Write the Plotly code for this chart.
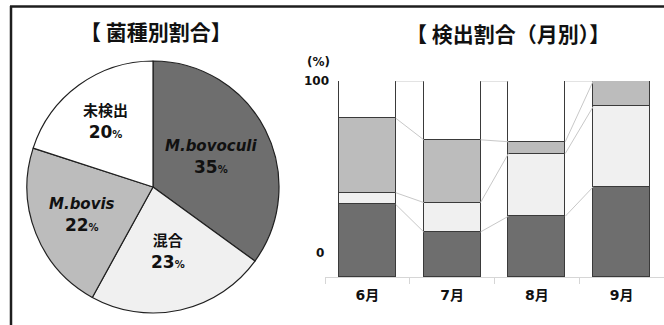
import math
import plotly.graph_objects as go

W, H = 664, 325

# ---- data -------------------------------------------------------------
species = ["M.bovoculi", "混合", "M.bovis", "未検出"]
species_share = [35, 23, 22, 20]
species_italic = [True, False, True, False]

months = ["6月", "7月", "8月", "9月"]
bovoculi = [37, 23, 31, 46]
mixed = [6, 15, 32, 41]
bovis = [38, 32, 6, 13]
undetected = [19, 30, 31, 0]

y_tick_values = [0, 100]
y_tick_labels = ["0", "100"]

# ---- styling ----------------------------------------------------------
DARK = "#6e6e6e"
MEDIUM = "#bcbcbc"
LIGHT = "#f0f0f0"
WHITE = "#ffffff"
species_colors = [DARK, LIGHT, MEDIUM, WHITE]
EDGE = "#3a3a3a"
FONT = "DejaVu Sans, Noto Sans CJK JP, sans-serif"
CJK = "Noto Sans CJK JP, sans-serif"


def px(x):
    return x / W


def py(y):
    return 1 - y / H


fig = go.Figure()

# ---- pie ----------------------------------------------------------------
cx, cy, r = 153, 187, 126
fig.add_trace(go.Pie(
    labels=species,
    values=species_share,
    sort=False,
    direction="clockwise",
    rotation=0,
    textinfo="none",
    hoverinfo="label+percent",
    marker=dict(colors=species_colors, line=dict(color="#202020", width=1.2)),
    domain=dict(x=[px(cx - r), px(cx + r)], y=[py(cy + r), py(cy - r)]),
    showlegend=False,
))

label_radius = [0.52, 0.53, 0.61, 0.64]
total = sum(species_share)
cum = 0
for name, val, ital, rf in zip(species, species_share, species_italic, label_radius):
    mid = (cum + val / 2) / total * 2 * math.pi
    cum += val
    lx = cx + rf * r * math.sin(mid)
    ly = cy - rf * r * math.cos(mid)
    head = f"<i>{name}</i>" if ital else name
    text = (f"<span style='font-size:15px'><b>{head}</b></span><br>"
            f"<b>{val}</b><span style='font-size:10px'><b>%</b></span>")
    fig.add_annotation(x=px(lx), y=py(ly), xref="paper", yref="paper",
                       xanchor="center", yanchor="middle",
                       text=text, showarrow=False, align="center",
                       font=dict(family=FONT, size=17, color="#111111"))

# ---- stacked bars -------------------------------------------------------
xpos = list(range(len(months)))
bar_w = 0.67
series = [bovoculi, mixed, bovis, undetected]
bar_colors = [DARK, LIGHT, MEDIUM, WHITE]
for name, vals, col in zip(species, series, bar_colors):
    fig.add_trace(go.Bar(
        x=xpos, y=vals, width=bar_w, name=name,
        marker=dict(color=col, line=dict(color=EDGE, width=1)),
        xaxis="x", yaxis="y", showlegend=False,
    ))

# series lines joining segment tops of neighbouring bars
level = [0] * len(months)
for vals in series:
    level = [a + b for a, b in zip(level, vals)]
    lx, ly = [], []
    for i in range(len(months) - 1):
        lx += [i + bar_w / 2, i + 1 - bar_w / 2, None]
        ly += [level[i], level[i + 1], None]
    fig.add_trace(go.Scatter(x=lx, y=ly, mode="lines",
                             line=dict(color="#c8c8c8", width=1),
                             hoverinfo="skip", showlegend=False,
                             xaxis="x", yaxis="y"))

# value-axis labels
for v, t, shift in zip(y_tick_values, y_tick_labels, [24, 0]):
    fig.add_annotation(x=px(331 if v else 326), y=v, xref="paper", yref="y",
                       text=f"<b>{t}</b>", showarrow=False, xanchor="right",
                       yanchor="middle", yshift=shift,
                       font=dict(family=FONT, size=12, color="#111111"))
fig.add_annotation(x=px(318), y=py(62), xref="paper", yref="paper",
                   xanchor="center", yanchor="middle",
                   text="<b>(%)</b>", showarrow=False,
                   font=dict(family=FONT, size=12, color="#111111"))

# ---- titles ---------------------------------------------------------------
fig.add_annotation(x=px(156), y=py(31), xref="paper", yref="paper",
                   xanchor="center", yanchor="middle",
                   text="<b>【 菌種別割合】</b>", showarrow=False,
                   font=dict(family=CJK, size=21, color="#111111"))
fig.add_annotation(x=px(508), y=py(33), xref="paper", yref="paper",
                   xanchor="center", yanchor="middle",
                   text="<b>【 検出割合（月別）】</b>", showarrow=False,
                   font=dict(family=CJK, size=21, color="#111111"))

# ---- outer frame ------------------------------------------------------------
fig.add_shape(type="line", xref="paper", yref="paper",
              x0=px(10), x1=1.0, y0=py(6.5), y1=py(6.5),
              line=dict(color="#1e1e1e", width=2.5))
fig.add_shape(type="line", xref="paper", yref="paper",
              x0=px(11), x1=px(11), y0=py(6), y1=0,
              line=dict(color="#1e1e1e", width=2.5))

fig.update_layout(
    width=W, height=H,
    margin=dict(l=0, r=0, t=0, b=0),
    paper_bgcolor="white", plot_bgcolor="white",
    barmode="stack", bargap=0,
    xaxis=dict(
        domain=[px(325), 1.0], range=[-0.5, 3.5],
        tickmode="array", tickvals=xpos, ticktext=[f"<b>{m}</b>" for m in months],
        tickfont=dict(family=FONT, size=14, color="#111111"),
        ticks="", showline=True, linecolor="#d6d6d6", linewidth=1,
        showgrid=False, zeroline=False, ticklabelstandoff=5,
        minor=dict(tickmode="array", tickvals=[-0.5, 0.5, 1.5, 2.5],
                   ticks="outside", ticklen=6, tickcolor="#d6d6d6",
                   showgrid=False),
    ),
    yaxis=dict(
        domain=[py(277), py(81)], range=[0, 100],
        showticklabels=False, showgrid=False, zeroline=False, ticks="",
    ),
)

fig.write_html("out.html")
